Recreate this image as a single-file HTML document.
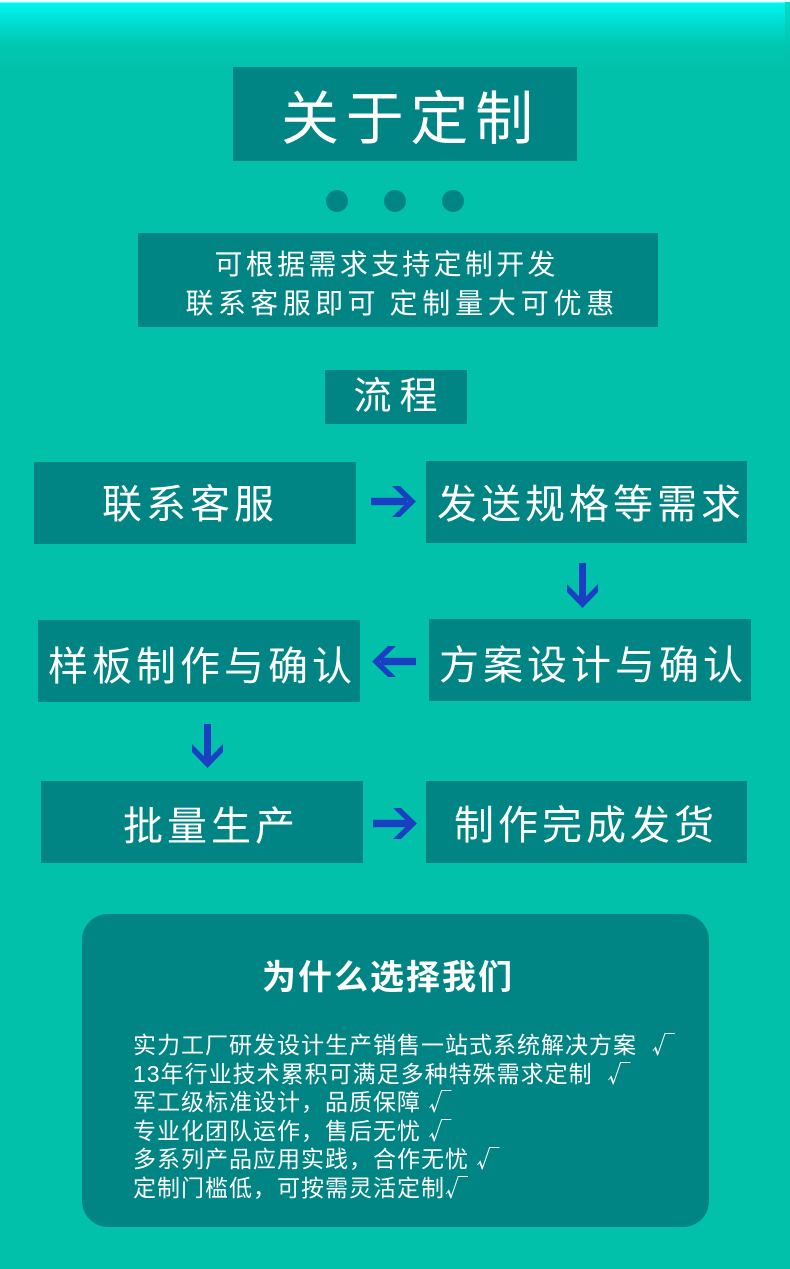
<!DOCTYPE html>
<html>
<head>
<meta charset="utf-8">
<style>
html,body{margin:0;padding:0;}
body{width:790px;height:1269px;position:relative;overflow:hidden;background:#01c1ab;font-family:"Liberation Sans","Noto Sans CJK SC",sans-serif;color:#fff;}
.top{position:absolute;left:0;top:0;width:790px;height:70px;background:linear-gradient(to bottom,#eafffe 0px,#eafffe 2px,#00f6f0 3px,#00e0d6 20px,#00c8b2 45px,#01c1ab 70px);}
.stripe{position:absolute;left:785px;top:2px;width:5px;height:60px;background:linear-gradient(to bottom,#00dccc,#00c4ae 50px,#01c1ab);}
.b{position:absolute;background:#008484;}
.t{position:absolute;white-space:nowrap;line-height:1;}
.dot{position:absolute;width:22px;height:22px;border-radius:50%;background:#008484;top:190px;}
.p{font-size:40px;letter-spacing:4px;}
.l{position:absolute;left:133px;white-space:nowrap;line-height:1;font-size:23px;letter-spacing:1px;}
.ck{font-family:"Noto Sans CJK SC",sans-serif;}
</style>
</head>
<body>
<div class="top"></div>
<div class="stripe"></div>

<!-- title -->
<div class="b" style="left:233px;top:67px;width:344px;height:94px;"></div>
<div class="t" style="left:281px;top:91px;font-size:58px;letter-spacing:6.7px;">关于定制</div>

<div class="dot" style="left:326px;"></div>
<div class="dot" style="left:384px;"></div>
<div class="dot" style="left:442px;"></div>

<!-- subtitle -->
<div class="b" style="left:138px;top:233px;width:520px;height:94px;"></div>
<div class="t" style="left:214.5px;top:251px;font-size:28px;letter-spacing:3.3px;">可根据需求支持定制开发</div>
<div class="t" style="left:185.5px;top:290px;font-size:28px;letter-spacing:4.4px;">联系客服即可</div>
<div class="t" style="left:389.5px;top:290px;font-size:28px;letter-spacing:4.8px;">定制量大可优惠</div>

<!-- 流程 -->
<div class="b" style="left:325px;top:370px;width:142px;height:54px;"></div>
<div class="t" style="left:353.5px;top:378px;font-size:38px;letter-spacing:8px;">流程</div>

<!-- process boxes -->
<div class="b" style="left:34px;top:462px;width:322px;height:82px;"></div>
<div class="t p" style="left:102px;top:485px;">联系客服</div>

<div class="b" style="left:426px;top:461px;width:321px;height:82px;"></div>
<div class="t p" style="left:437px;top:484.5px;">发送规格等需求</div>

<div class="b" style="left:38px;top:620px;width:322px;height:82px;"></div>
<div class="t p" style="left:48px;top:646.5px;">样板制作与确认</div>

<div class="b" style="left:429px;top:619px;width:322px;height:82px;"></div>
<div class="t p" style="left:439px;top:645.5px;">方案设计与确认</div>

<div class="b" style="left:41px;top:781px;width:322px;height:82px;"></div>
<div class="t p" style="left:123px;top:806.5px;">批量生产</div>

<div class="b" style="left:426px;top:781px;width:321px;height:82px;"></div>
<div class="t p" style="left:454px;top:806px;">制作完成发货</div>

<!-- arrows -->
<svg style="position:absolute;left:0;top:0;" width="790" height="1269" viewBox="0 0 790 1269">
  <g fill="#1b3fc2">
    <!-- right arrow 1 -->
    <rect x="371" y="497.8" width="36" height="7.4"/>
    <polygon points="392,486 400,486 416,501.5 400,517 392,517 408,501.5"/>
    <!-- down arrow 1 -->
    <rect x="579" y="563" width="7" height="38"/>
    <polygon points="567,584 567,592 582.5,608 598,592 598,584 582.5,600"/>
    <!-- left arrow -->
    <rect x="381" y="657.8" width="35" height="7.4"/>
    <polygon points="396,646 388,646 372,661.5 388,677 396,677 380,661.5"/>
    <!-- down arrow 2 -->
    <rect x="204" y="724" width="7" height="38"/>
    <polygon points="192,744 192,752 207.5,768 223,752 223,744 207.5,760"/>
    <!-- right arrow 2 -->
    <rect x="373" y="819.8" width="36" height="7.4"/>
    <polygon points="393,808 401,808 417,823.5 401,839 393,839 409,823.5"/>
  </g>
</svg>

<!-- why choose us panel -->
<div class="b" style="left:82px;top:914px;width:627px;height:313px;border-radius:26px;"></div>
<div class="t" style="left:262px;top:961px;font-size:34px;letter-spacing:2px;font-weight:bold;">为什么选择我们</div>

<div class="l" style="top:1032.3px;">实力工厂研发设计生产销售一站式系统解决方案&nbsp; <span class="ck">√</span></div>
<div class="l" style="top:1061.3px;">13年行业技术累积可满足多种特殊需求定制&nbsp; <span class="ck">√</span></div>
<div class="l" style="top:1089.3px;">军工级标准设计，品质保障 <span class="ck">√</span></div>
<div class="l" style="top:1117.8px;">专业化团队运作，售后无忧 <span class="ck">√</span></div>
<div class="l" style="top:1146.3px;">多系列产品应用实践，合作无忧 <span class="ck">√</span></div>
<div class="l" style="top:1175.3px;">定制门槛低，可按需灵活定制<span class="ck">√</span></div>
</body>
</html>
